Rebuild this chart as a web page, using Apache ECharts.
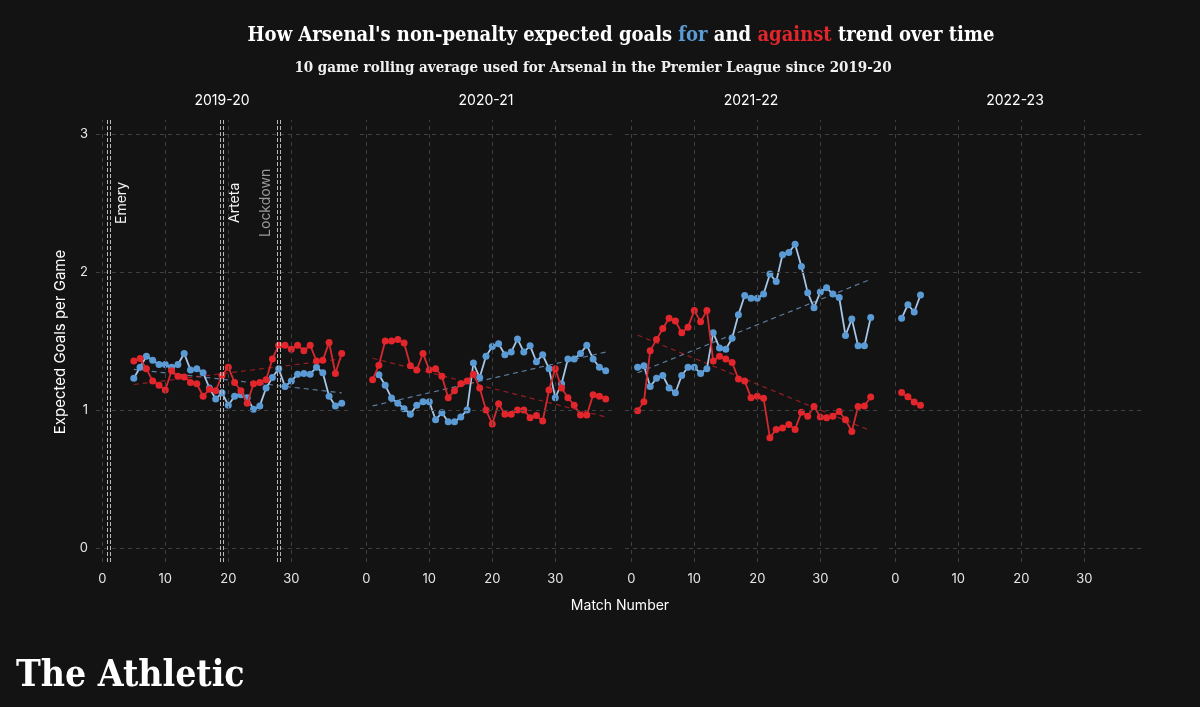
<!DOCTYPE html>
<html><head><meta charset="utf-8">
<script src="https://cdn.jsdelivr.net/npm/echarts@6/dist/echarts.min.js"></script>
<style>html,body{margin:0;padding:0;background:#131313}#c{width:1200px;height:707px}</style>
</head><body><div id="c"></div>
<script>
// ---------- DATA ----------
const seasons = ['2019-20', '2020-21', '2021-22', '2022-23'];
const xTicks = [0, 10, 20, 30];
const yTicks = [0, 1, 2, 3];

const matches1920 = [5,6,7,8,9,10,11,12,13,14,15,16,17,18,19,20,21,22,23,24,25,26,27,28,29,30,31,32,33,34,35,36,37,38];
const for1920 = [1.23,1.31,1.39,1.36,1.33,1.33,1.31,1.33,1.41,1.29,1.30,1.27,1.16,1.08,1.125,1.035,1.10,1.11,1.09,1.005,1.03,1.16,1.235,1.30,1.17,1.21,1.26,1.265,1.26,1.31,1.27,1.10,1.03,1.05];
const ag1920 = [1.355,1.374,1.30,1.21,1.18,1.145,1.285,1.245,1.24,1.20,1.19,1.10,1.15,1.14,1.25,1.31,1.20,1.14,1.05,1.19,1.20,1.22,1.37,1.47,1.47,1.44,1.47,1.43,1.47,1.355,1.36,1.49,1.265,1.41];

const matches2021 = [1,2,3,4,5,6,7,8,9,10,11,12,13,14,15,16,17,18,19,20,21,22,23,24,25,26,27,28,29,30,31,32,33,34,35,36,37,38];
const for2021 = [null,1.255,1.18,1.087,1.05,1.01,0.97,1.035,1.06,1.06,0.93,0.98,0.915,0.915,0.95,1.00,1.34,1.235,1.39,1.46,1.48,1.40,1.42,1.515,1.42,1.465,1.35,1.40,1.30,1.09,1.19,1.37,1.37,1.41,1.47,1.37,1.31,1.285];
const ag2021 = [1.22,1.325,1.50,1.50,1.51,1.485,1.32,1.29,1.41,1.29,1.30,1.245,1.09,1.14,1.19,1.21,1.26,1.16,1.00,0.90,1.045,0.97,0.97,1.00,1.00,0.945,0.96,0.92,1.145,1.30,1.16,1.09,1.035,0.965,0.965,1.11,1.10,1.08];

const matches2122 = [1,2,3,4,5,6,7,8,9,10,11,12,13,14,15,16,17,18,19,20,21,22,23,24,25,26,27,28,29,30,31,32,33,34,35,36,37,38];
const for2122 = [1.31,1.32,1.17,1.23,1.25,1.16,1.125,1.25,1.31,1.31,1.265,1.30,1.56,1.45,1.44,1.52,1.69,1.83,1.81,1.81,1.84,1.985,1.93,2.125,2.14,2.20,2.04,1.85,1.74,1.855,1.885,1.84,1.815,1.54,1.66,1.465,1.465,1.67];
const ag2122 = [0.995,1.06,1.43,1.51,1.59,1.665,1.645,1.56,1.60,1.72,1.64,1.72,1.355,1.39,1.37,1.345,1.225,1.21,1.09,1.10,1.085,0.80,0.86,0.87,0.895,0.86,0.985,0.955,1.025,0.95,0.945,0.955,0.99,0.93,0.845,1.025,1.03,1.095];

const matches2223 = [1,2,3,4];
const for2223 = [1.664,1.763,1.71,1.833];
const ag2223 = [1.128,1.097,1.058,1.034];

// trend line end points: [start match, end match] and values
const trendX1920 = [5, 38];   const trendFor1920 = [1.295, 1.125]; const trendAg1920 = [1.185, 1.37];
const trendX2021 = [1, 38];   const trendFor2021 = [1.03, 1.42];   const trendAg2021 = [1.375, 0.95];
const trendX2122 = [1, 38];   const trendFor2122 = [1.27, 1.947];  const trendAg2122 = [1.543, 0.85];

const eventMatches = [1, 19, 28];
const eventLabels = ['Emery', 'Arteta', 'Lockdown'];

// ---------- BUILD ----------
const BLUE = '#5b9bd5', BLUE_LINE = '#a4c6e8', RED = '#e3262b', RED_LINE = '#d42a2f';
const FONT = 'Inter, "Noto Sans", sans-serif';
const SERIF = '"DejaVu Serif Condensed", "DejaVu Serif", serif';

const panels = [
  {m: matches1920, f: for1920, a: ag1920, tx: trendX1920, tf: trendFor1920, ta: trendAg1920},
  {m: matches2021, f: for2021, a: ag2021, tx: trendX2021, tf: trendFor2021, ta: trendAg2021},
  {m: matches2122, f: for2122, a: ag2122, tx: trendX2122, tf: trendFor2122, ta: trendAg2122},
  {m: matches2223, f: for2223, a: ag2223, tx: null}
];
const pair = (xs, ys) => xs.map((x, i) => [x, ys[i]]);

const gridLeft = [96, 360, 625, 889];
const grids = [], xAxes = [], yAxes = [], series = [];
panels.forEach((p, i) => {
  grids.push({left: gridLeft[i], top: 120, width: 252, height: 442});
  xAxes.push({
    gridIndex: i, type: 'value', min: -1, max: 39,
    axisLine: {show: false}, axisTick: {show: false, customValues: xTicks},
    splitLine: {show: false},
    axisLabel: {customValues: xTicks, color: '#e6e6e6', fontSize: 13, fontFamily: FONT, margin: 11}
  });
  yAxes.push({
    gridIndex: i, type: 'value', min: -0.1, max: 3.1,
    axisLine: {show: false}, axisTick: {show: false, customValues: yTicks},
    splitLine: {show: false},
    axisLabel: {show: i === 0, customValues: yTicks, color: '#e6e6e6', fontSize: 13, fontFamily: FONT, margin: 8}
  });
  // grid lines
  series.push({
    type: 'line', xAxisIndex: i, yAxisIndex: i, data: [], silent: true, z: 1,
    markLine: {
      silent: true, symbol: ['none', 'none'], label: {show: false}, animation: false,
      lineStyle: {color: '#404040', type: [4, 4], width: 1},
      emphasis: {disabled: true},
      data: [...xTicks.map(v => ({xAxis: v})), ...yTicks.map(v => ({yAxis: v}))]
    }
  });
  if (p.tx) {
    series.push({
      type: 'line', xAxisIndex: i, yAxisIndex: i, data: pair(p.tx, p.tf), symbol: 'none', z: 2, silent: true,
      lineStyle: {color: 'rgba(120,160,205,0.75)', width: 1.2, type: [5, 4]}
    });
    series.push({
      type: 'line', xAxisIndex: i, yAxisIndex: i, data: pair(p.tx, p.ta), symbol: 'none', z: 2, silent: true,
      lineStyle: {color: 'rgba(190,35,40,0.75)', width: 1.2, type: [5, 4]}
    });
  }
  series.push({
    name: 'for', type: 'line', xAxisIndex: i, yAxisIndex: i, data: pair(p.m, p.f), z: 3,
    symbol: 'circle', symbolSize: 7, showAllSymbol: true, connectNulls: false,
    itemStyle: {color: BLUE, borderWidth: 0}, lineStyle: {color: BLUE_LINE, width: 1.8}
  });
  series.push({
    name: 'against', type: 'line', xAxisIndex: i, yAxisIndex: i, data: pair(p.m, p.a), z: 4,
    symbol: 'circle', symbolSize: 7, showAllSymbol: true,
    itemStyle: {color: RED, borderWidth: 0}, lineStyle: {color: RED_LINE, width: 1.8}
  });
});
// event lines in first panel (drawn as a pair of thin dashed lines)
series.push({
  type: 'line', xAxisIndex: 0, yAxisIndex: 0, data: [], silent: true, z: 5,
  markLine: {
    silent: true, symbol: ['none', 'none'], label: {show: false}, animation: false,
    lineStyle: {color: '#b8b8b8', type: [4, 2], width: 1},
    data: eventMatches.flatMap(m => [{xAxis: m - 0.2}, {xAxis: m + 0.2}])
  }
});

const chart = echarts.init(document.getElementById('c'));
chart.setOption({
  backgroundColor: '#131313',
  animation: false,
  grid: grids, xAxis: xAxes, yAxis: yAxes, series: series
});

// ---------- TEXT ----------
const g = [];
g.push({
  type: 'text', x: 621, y: 36,
  style: {
    text: '{w|How Arsenal\'s non-penalty expected goals }{b|for}{w| and }{r|against}{w| trend over time}',
    align: 'center', verticalAlign: 'middle',
    rich: {
      w: {fill: '#ffffff', font: 'bold 20px ' + SERIF},
      b: {fill: BLUE, font: 'bold 20px ' + SERIF},
      r: {fill: RED, font: 'bold 20px ' + SERIF}
    }
  }
});
g.push({type: 'text', x: 593, y: 68, style: {text: '10 game rolling average used for Arsenal in the Premier League since 2019-20', fill: '#f0f0f0', font: 'bold 15px ' + SERIF, align: 'center', verticalAlign: 'middle'}});
seasons.forEach((s, i) => {
  const p = chart.convertToPixel({xAxisIndex: i, yAxisIndex: i}, [19, 0]);
  g.push({type: 'text', x: p[0], y: 101, style: {text: s, fill: '#ffffff', font: '14px ' + FONT, align: 'center', verticalAlign: 'middle'}});
});
eventMatches.forEach((m, k) => {
  const p = chart.convertToPixel({xAxisIndex: 0, yAxisIndex: 0}, [m, 2.5]);
  const left = eventLabels[k] === 'Lockdown';
  g.push({type: 'text', x: p[0] + (left ? -13 : 13), y: p[1], rotation: Math.PI / 2,
    style: {text: eventLabels[k], fill: left ? '#9a9a9a' : '#f2f2f2', font: '14px ' + FONT, align: 'center', verticalAlign: 'middle'}});
});
g.push({type: 'text', x: 60, y: 342, rotation: Math.PI / 2, style: {text: 'Expected Goals per Game', fill: '#ffffff', font: '15px ' + FONT, align: 'center', verticalAlign: 'middle'}});
g.push({type: 'text', x: 620, y: 606, style: {text: 'Match Number', fill: '#ffffff', font: '14px ' + FONT, align: 'center', verticalAlign: 'middle'}});
g.push({type: 'text', x: 16, y: 676, style: {text: 'The Athletic', fill: '#ffffff', font: 'bold 37px ' + SERIF, align: 'left', verticalAlign: 'middle'}});
chart.setOption({graphic: g});
</script>
</body></html>
